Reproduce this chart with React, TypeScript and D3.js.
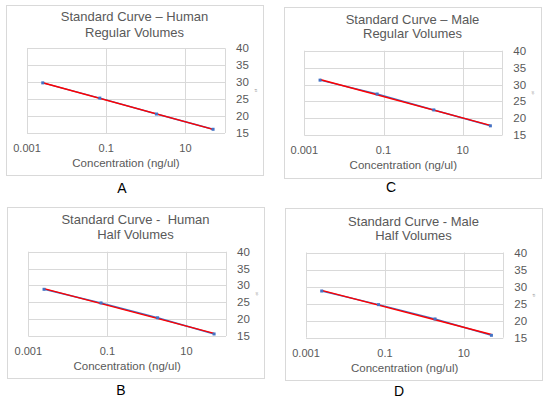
import * as d3 from "d3";

// concentrations of the dilution series (ng/ul), shared by all four curves
const CONCENTRATIONS = [0.0025, 0.069, 1.86, 50];

// Ct values read per panel
const CT_HUMAN_REGULAR = [29.8, 25.3, 20.6, 16.1];
const CT_MALE_REGULAR = [31.3, 27.2, 22.5, 17.8];
const CT_HUMAN_HALF = [28.85, 24.8, 20.4, 15.6];
const CT_MALE_HALF = [28.7, 24.7, 20.5, 15.7];

const X_DOMAIN: [number, number] = [0.001, 100];
const X_TICKS = [0.001, 0.1, 10];
const X_TICK_LABELS = ["0.001", "0.1", "10"];
const X_GRID = [0.001, 0.1, 10, 100];
const Y_DOMAIN: [number, number] = [15, 40];
const Y_TICKS = [15, 20, 25, 30, 35, 40];

const X_TITLE = "Concentration (ng/ul)";
const Y_TITLE = "ct";

const FONT = "'Liberation Sans', Arial, sans-serif";
const GREY_TEXT = "#595959";
const GRID = "#d9d9d9";
const BLUE = "#4472c4";
const RED = "#ff0000";

type PanelProps = {
  frame: { x: number; y: number; w: number; h: number };
  plot: { left: number; top: number; right: number; bottom: number };
  title: [string, string];
  titleY: [number, number];
  label: string;
  labelPos: [number, number];
  ct: number[];
};

// least squares trendline of ct against log10(concentration)
const fit = (xs: number[], ys: number[]) => {
  const lx = xs.map((d) => Math.log10(d));
  const mx = d3.mean(lx) as number;
  const my = d3.mean(ys) as number;
  let num = 0;
  let den = 0;
  lx.forEach((v, i) => {
    num += (v - mx) * (ys[i] - my);
    den += (v - mx) * (v - mx);
  });
  const slope = num / den;
  return (x: number) => my + slope * (Math.log10(x) - mx);
};

const Panel = ({ frame, plot, title, titleY, label, labelPos, ct }: PanelProps) => {
  const xScale = d3.scaleLog().domain(X_DOMAIN).range([plot.left, plot.right]);
  const yScale = d3.scaleLinear().domain(Y_DOMAIN).range([plot.bottom, plot.top]);
  const cx = frame.x + frame.w / 2;

  const points = CONCENTRATIONS.map((c, i) => [xScale(c), yScale(ct[i])] as [number, number]);
  const dataLine = d3.line()(points) as string;

  const trend = fit(CONCENTRATIONS, ct);
  const x0 = CONCENTRATIONS[0];
  const x1 = CONCENTRATIONS[CONCENTRATIONS.length - 1];

  return (
    <g>
      <rect
        x={frame.x + 0.5}
        y={frame.y + 0.5}
        width={frame.w}
        height={frame.h}
        fill="#fff"
        stroke={GRID}
      />
      {title.map((t, i) => (
        <text
          key={i}
          x={cx}
          y={titleY[i]}
          textAnchor="middle"
          dominantBaseline="central"
          fontSize={13}
          fill={GREY_TEXT}
          style={{ whiteSpace: "pre" }}
        >
          {t}
        </text>
      ))}
      {Y_TICKS.map((t) => (
        <line
          key={"y" + t}
          x1={plot.left}
          x2={plot.right}
          y1={Math.round(yScale(t)) + 0.5}
          y2={Math.round(yScale(t)) + 0.5}
          stroke={GRID}
        />
      ))}
      {X_GRID.map((t) => (
        <line
          key={"x" + t}
          x1={Math.round(xScale(t)) + 0.5}
          x2={Math.round(xScale(t)) + 0.5}
          y1={plot.top}
          y2={plot.bottom}
          stroke={GRID}
        />
      ))}
      {Y_TICKS.map((t) => (
        <text
          key={"yl" + t}
          x={plot.right + 11}
          y={yScale(t)}
          dominantBaseline="central"
          fontSize={11.5}
          fill={GREY_TEXT}
        >
          {t}
        </text>
      ))}
      {X_TICKS.map((t, i) => (
        <text
          key={"xl" + t}
          x={xScale(t)}
          y={plot.bottom + 15}
          textAnchor="middle"
          dominantBaseline="central"
          fontSize={11}
          fill={GREY_TEXT}
        >
          {X_TICK_LABELS[i]}
        </text>
      ))}
      <text
        x={(plot.left + plot.right) / 2}
        y={plot.bottom + 30}
        textAnchor="middle"
        dominantBaseline="central"
        fontSize={11.5}
        fill={GREY_TEXT}
      >
        {X_TITLE}
      </text>
      <text
        transform={`translate(${plot.right + 30},${(plot.top + plot.bottom) / 2}) rotate(-90)`}
        textAnchor="middle"
        dominantBaseline="central"
        fontSize={4}
        fill="#8c8c8c"
      >
        {Y_TITLE}
      </text>
      <path d={dataLine} fill="none" stroke={BLUE} strokeWidth={1.5} />
      <line
        x1={xScale(x0)}
        y1={yScale(trend(x0))}
        x2={xScale(x1)}
        y2={yScale(trend(x1))}
        stroke={RED}
        strokeWidth={1.4}
      />
      {points.map(([px, py], i) => (
        <rect key={i} x={px - 1.5} y={py - 1.5} width={3} height={3} fill={BLUE} />
      ))}
      <text
        x={labelPos[0]}
        y={labelPos[1]}
        textAnchor="middle"
        dominantBaseline="central"
        fontSize={14}
        fill="#000"
      >
        {label}
      </text>
    </g>
  );
};

export default function App() {
  return (
    <svg
      width={550}
      height={401}
      style={{ position: "absolute", left: 0, top: 0, background: "#fff" }}
      fontFamily={FONT}
    >
      <Panel
        frame={{ x: 6, y: 5, w: 257, h: 170 }}
        plot={{ left: 27, top: 48.3, right: 225, bottom: 133 }}
        title={["Standard Curve \u2013 Human", "Regular Volumes"]}
        titleY={[16, 32]}
        label="A"
        labelPos={[122, 188]}
        ct={CT_HUMAN_REGULAR}
      />
      <Panel
        frame={{ x: 284, y: 7, w: 257, h: 171 }}
        plot={{ left: 304.3, top: 50.7, right: 502.3, bottom: 135.3 }}
        title={["Standard Curve \u2013 Male", "Regular Volumes"]}
        titleY={[19.3, 33.3]}
        label="C"
        labelPos={[391, 187]}
        ct={CT_MALE_REGULAR}
      />
      <Panel
        frame={{ x: 7, y: 207, w: 257, h: 171 }}
        plot={{ left: 28.3, top: 251.7, right: 226, bottom: 336 }}
        title={["Standard Curve -  Human", "Half Volumes"]}
        titleY={[219, 234]}
        label="B"
        labelPos={[121, 390]}
        ct={CT_HUMAN_HALF}
      />
      <Panel
        frame={{ x: 285, y: 208, w: 257, h: 172 }}
        plot={{ left: 306, top: 252.5, right: 503.3, bottom: 337.7 }}
        title={["Standard Curve - Male", "Half Volumes"]}
        titleY={[221, 235]}
        label="D"
        labelPos={[399, 391]}
        ct={CT_MALE_HALF}
      />
    </svg>
  );
}
